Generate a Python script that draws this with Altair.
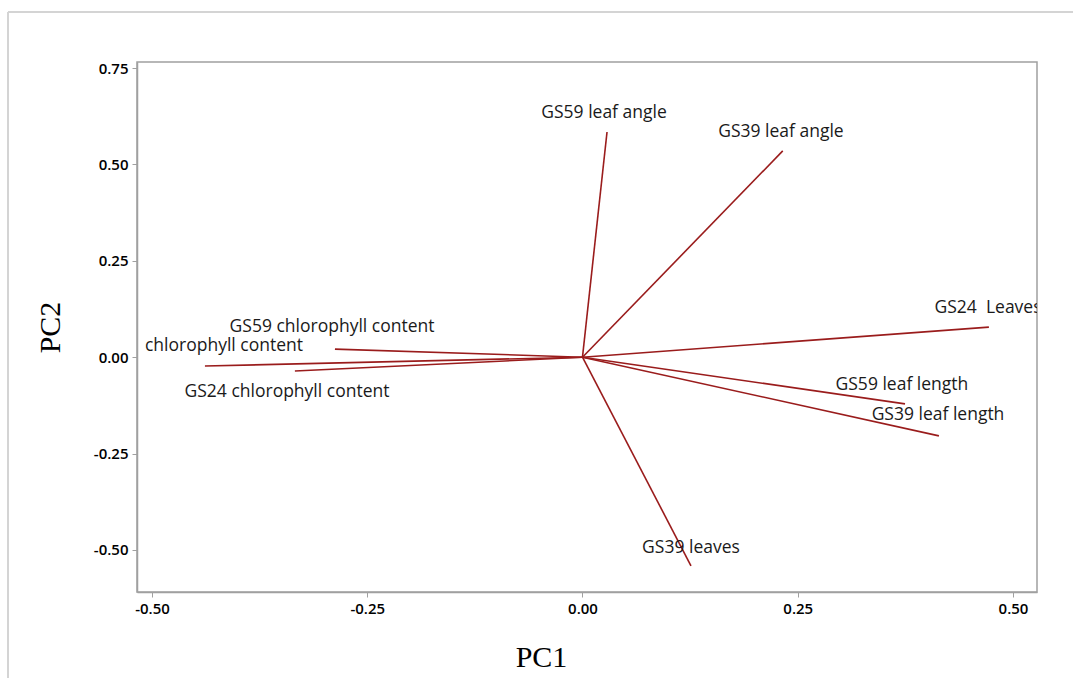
import altair as alt
import pandas as pd

variables = ["GS59 leaf angle", "GS39 leaf angle", "GS24\u00a0 Leaves", "GS59 leaf length",
             "GS39 leaf length", "GS39 leaves", "GS59 chlorophyll content",
             "chlorophyll content", "GS24 chlorophyll content"]
pc1 = [0.0285, 0.2326, 0.472, 0.3746, 0.414, 0.126, -0.2875, -0.4385, -0.334]
pc2 = [0.584, 0.535, 0.078, -0.121, -0.204, -0.541, 0.021, -0.023, -0.036]
label_x = [0.025, 0.2305, 0.471, 0.371, 0.4129, 0.126, -0.2909, -0.4164, -0.3432]
label_y = [0.6345, 0.585, 0.1288, -0.0709, -0.151, -0.4936, 0.0777, 0.0297, -0.0901]
x_ticks = [-0.5, -0.25, 0.0, 0.25, 0.5]
y_ticks = [-0.5, -0.25, 0.0, 0.25, 0.5, 0.75]

df = pd.DataFrame({"var": variables, "pc1": pc1, "pc2": pc2,
                   "lx": label_x, "ly": label_y, "x0": 0.0, "y0": 0.0})

xs = alt.Scale(domain=[-0.5174, 0.5279], nice=False, zero=False)
ys = alt.Scale(domain=[-0.609, 0.7656], nice=False, zero=False)

lab = "(datum.value < 0 ? '-' : '') + format(abs(datum.value), '.2f')"

xaxis = alt.Axis(values=x_ticks, labelExpr=lab, title="PC1", grid=False,
                 titleX=404, titleY=65, titleBaseline="middle")
yaxis = alt.Axis(values=y_ticks, labelExpr=lab, title="PC2", grid=False,
                 titleX=-87, titleY=265, titleAngle=-90, titleBaseline="middle")

lines = alt.Chart(df).mark_rule(color="#9a1c1c", strokeWidth=1.6).encode(
    x=alt.X("x0:Q", scale=xs, axis=xaxis),
    y=alt.Y("y0:Q", scale=ys, axis=yaxis),
    x2="pc1:Q",
    y2="pc2:Q",
)

labels = alt.Chart(df).mark_text(
    font="Open Sans", fontSize=17.5, color="#1a1a1a", align="center",
    baseline="middle", clip=True
).encode(
    x=alt.X("lx:Q", scale=xs),
    y=alt.Y("ly:Q", scale=ys),
    text="var:N",
)

frame_data = alt.Data(values=[{"a": 1}])
top_rule = alt.Chart(frame_data).mark_rule(color="#d4d4d4", strokeWidth=2, clip=False).encode(
    x=alt.value(-129), x2=alt.value(960), y=alt.value(-50))
left_rule = alt.Chart(frame_data).mark_rule(color="#d4d4d4", strokeWidth=2, clip=False).encode(
    x=alt.value(-129), y=alt.value(-50), y2=alt.value(640))

chart = alt.layer(top_rule, left_rule, lines, labels).properties(
    width=900, height=530,
    autosize=alt.AutoSizeParams(type="none"),
    padding={"left": 137, "top": 62, "right": 36, "bottom": 86},
    background="white",
).configure_view(
    stroke="#a0a0a0", strokeWidth=1.5
).configure_axis(
    domainColor="#a0a0a0", domainWidth=1.5, tickColor="#a0a0a0", tickSize=5,
    labelFont="Open Sans", labelFontSize=15, labelFontWeight=600, labelColor="#000000",
    labelPadding=4, titleFont="Liberation Serif", titleFontSize=30,
    titleFontWeight="normal", titleColor="#000000"
)

chart.save("out.html", embed_options={"renderer": "svg", "actions": False})
